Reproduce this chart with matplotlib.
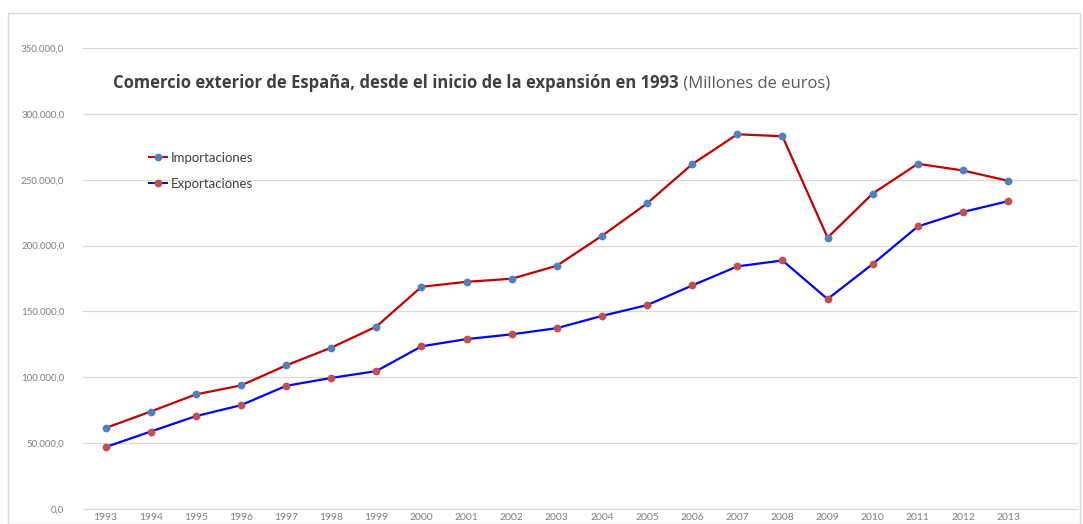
import matplotlib
matplotlib.use("Agg")
import matplotlib.pyplot as plt
from matplotlib.ticker import FuncFormatter
from matplotlib.patches import Rectangle

years = list(range(1993, 2014))
importaciones = [61500, 74000, 87000, 93800, 109000, 122500, 138500, 168700, 172500, 174800,
                 184700, 207400, 232000, 261800, 284500, 283000, 206000, 239500, 262100, 257000, 249200]
exportaciones = [47000, 58800, 70500, 78800, 93500, 99500, 104700, 123500, 129000, 132600,
                 137300, 146600, 154800, 169700, 184200, 188700, 159400, 186000, 214500, 225500, 233700]
title_bold = "Comercio exterior de España, desde el inicio de la expansión en 1993"
title_rest = " (Millones de euros)"

plt.rcParams['font.family'] = ['Lato', 'DejaVu Sans']

W, H = 1083, 524
fig = plt.figure(figsize=(W / 100, H / 100), dpi=100)
fig.patches.append(Rectangle((8 / W, 0), (1080 - 8) / W, 1 - 13 / H, transform=fig.transFigure,
                             fill=False, edgecolor='#d9d9d9', linewidth=1))

ax = fig.add_axes([83 / W, 1 - 509 / H, (1078 - 83) / W, (509 - 48) / H])
x = list(range(len(years)))
ax.plot(x, importaciones, color='#C00000', linewidth=1.6, marker='o', markersize=4.6,
        markerfacecolor='#4F81BD', markeredgecolor='#4F81BD', label='Importaciones', zorder=3)
ax.plot(x, exportaciones, color='#0000FF', linewidth=1.6, marker='o', markersize=4.6,
        markerfacecolor='#C0504D', markeredgecolor='#C0504D', label='Exportaciones', zorder=3)

ax.set_ylim(0, 350000)
ax.set_xlim(-0.5, 21.55)
ax.set_yticks(range(0, 350001, 50000))
ax.yaxis.set_major_formatter(FuncFormatter(lambda v, p: f"{int(v):,}".replace(",", ".") + ",0"))
ax.set_xticks(x)
ax.set_xticklabels([str(y) for y in years])
ax.grid(axis='y', color='#d9d9d9', linewidth=0.9)
ax.set_axisbelow(True)
for s in ['top', 'right', 'left']:
    ax.spines[s].set_visible(False)
ax.spines['bottom'].set_color('#d9d9d9')
ax.tick_params(axis='both', length=0, labelcolor='#7f7f7f')
ax.tick_params(axis='y', pad=13.5, labelsize=7)
ax.tick_params(axis='x', pad=3, labelsize=7.5)

leg = ax.legend(loc='upper left', bbox_to_anchor=(54 / (1078 - 83), (509 - 140) / (509 - 48)),
                frameon=False, fontsize=9.5, handlelength=1.4, handletextpad=0.25,
                labelspacing=1.05, labelcolor='#404040')
for h in leg.legend_handles:
    h.set_linewidth(1.4)

t1 = fig.text(113 / W, 1 - 87.5 / H, title_bold, fontsize=12, fontweight='bold',
              color='#404040', va='baseline', ha='left', family=['Open Sans', 'DejaVu Sans'])
fig.canvas.draw()
bb = t1.get_window_extent(fig.canvas.get_renderer())
fig.text(bb.x1 / W, 1 - 87.5 / H, title_rest, fontsize=12, color='#595959',
         va='baseline', ha='left', family=['Open Sans', 'DejaVu Sans'])

fig.savefig("out.png", dpi=100)
